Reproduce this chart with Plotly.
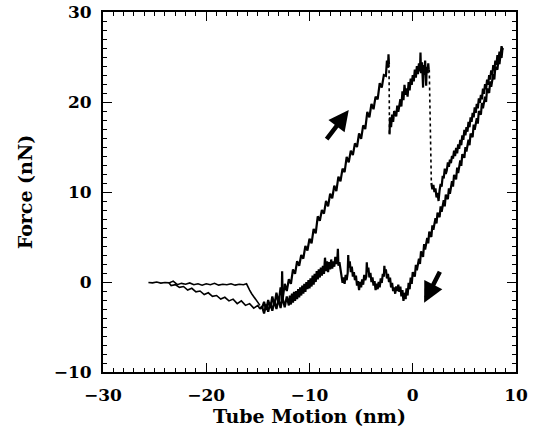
import plotly.graph_objects as go

# ---- data (Tube Motion nm, Force nN) ----
flat_x = [-25.6, -25.2, -24.8, -24.4, -24.0, -23.6, -23.2, -22.8, -22.4, -22.0, -21.6, -21.2, -20.8,
          -20.4, -20.0, -19.6, -19.2, -18.8, -18.4, -18.0, -17.6, -17.2, -16.8, -16.4, -16.1,
          -16.0, -15.8, -15.6, -15.4, -15.2, -15.0, -14.8]
flat_y = [-0.05, -0.1, 0.0, -0.12, -0.05, -0.1, 0.1, -0.3, -0.15, -0.25, -0.1, -0.3, -0.2,
          -0.35, -0.2, -0.3, -0.15, -0.35, -0.25, -0.3, -0.2, -0.35, -0.25, -0.3, -0.2,
          -0.5, -0.9, -1.3, -1.6, -2.0, -2.3, -2.6]

rise_x = [-14.6, -14.4, -14.2, -14.0, -13.8, -13.6, -13.4, -13.2, -13.0, -12.8, -12.6, -12.4, -12.2,
          -12.0, -11.8, -11.6, -11.4, -11.2, -11.0, -10.8, -10.6, -10.4, -10.2, -10.0, -9.8, -9.6,
          -9.4, -9.2, -9.0, -8.8, -8.6, -8.4, -8.2, -8.0, -7.8, -7.6, -7.4, -7.2, -7.0, -6.8, -6.6,
          -6.4, -6.2, -6.0, -5.8, -5.6, -5.4, -5.2, -5.0, -4.8, -4.6, -4.4, -4.2, -4.0, -3.8, -3.6,
          -3.4, -3.2, -3.0, -2.8, -2.6, -2.5, -2.4, -2.35, -2.3]
rise_y = [-2.9, -2.2, -3.1, -2.0, -2.9, -1.6, -2.6, -1.2, -2.4, -0.6, -1.9, -0.2, -1.0,
          0.3, -0.2, 1.4, 0.9, 2.3, 1.8, 3.0, 2.6, 4.0, 3.5, 4.8, 4.3, 5.9,
          5.4, 7.3, 6.8, 8.0, 7.6, 9.0, 8.4, 9.8, 9.3, 10.7, 10.1, 11.7, 11.2, 12.6, 12.2,
          13.9, 13.3, 14.6, 14.1, 15.4, 15.0, 16.5, 15.9, 17.4, 17.0, 18.9, 18.3, 19.8, 19.2, 20.6,
          20.3, 22.1, 21.6, 23.0, 22.9, 24.6, 23.8, 25.3, 24.2]

drop1_x = [-2.3, -2.25]
drop1_y = [24.2, 16.4]

climb_x = [-2.25, -2.2, -2.1, -2.0, -1.9, -1.8, -1.6, -1.5, -1.4, -1.2, -1.1, -1.0, -0.9, -0.8,
           -0.7, -0.6, -0.5, -0.4, -0.3, -0.2, -0.1, 0.0, 0.1, 0.2, 0.3, 0.4, 0.5, 0.6, 0.7,
           0.75, 0.8, 0.9, 1.0, 1.05, 1.15, 1.2, 1.3, 1.35, 1.45, 1.5, 1.55]
climb_y = [16.4, 18.3, 17.2, 18.6, 17.8, 19.0, 18.4, 19.6, 18.9, 20.3, 19.5, 21.2, 20.2, 21.9,
           20.8, 21.5, 20.6, 22.2, 21.3, 22.6, 21.9, 23.0, 22.3, 23.6, 22.7, 24.0, 23.1, 24.3, 23.4,
           25.5, 23.2, 24.4, 21.6, 24.1, 23.0, 24.6, 21.8, 23.9, 23.2, 24.3, 23.6]

drop2_x = [1.6, 1.8]
drop2_y = [23.6, 11.0]

push_x = [1.8, 1.9, 2.0, 2.1, 2.2, 2.3, 2.4, 2.5, 2.6, 2.7, 2.8, 2.9, 3.0, 3.1, 3.2, 3.3, 3.4,
          3.5, 3.6, 3.7, 3.8, 3.9, 4.0, 4.1, 4.2, 4.3, 4.4, 4.5, 4.6, 4.7, 4.8, 4.9, 5.0, 5.1,
          5.2, 5.3, 5.4, 5.5, 5.6, 5.7, 5.8, 5.9, 6.0, 6.1, 6.2, 6.3, 6.4, 6.5, 6.6, 6.7, 6.8,
          6.9, 7.0, 7.1, 7.2, 7.3, 7.4, 7.5, 7.6, 7.7, 7.8, 7.9, 8.0, 8.1, 8.2, 8.3, 8.4, 8.5,
          8.6, 8.7]
push_y = [11.0, 10.3, 10.8, 10.0, 10.4, 9.4, 9.9, 9.0, 10.2, 10.9, 10.6, 11.8, 11.5, 12.6, 12.0, 12.4, 13.3,
          12.8, 13.6, 13.2, 14.0, 13.7, 14.6, 14.0, 14.9, 14.3, 15.3, 14.8, 15.8, 15.2, 16.3, 15.8, 16.9, 16.3,
          17.2, 16.7, 17.8, 17.2, 18.3, 17.8, 18.8, 18.3, 19.4, 18.8, 19.8, 19.3, 20.4, 19.9, 20.8, 20.3, 21.5,
          20.9, 22.0, 21.4, 22.5, 21.9, 23.0, 22.5, 23.5, 23.0, 24.1, 23.5, 24.6, 24.1, 25.2, 24.6, 25.6, 25.1,
          26.2, 25.8]

back_x = [8.7, 8.6, 8.5, 8.4, 8.3, 8.2, 8.0, 7.9, 7.8, 7.6, 7.5, 7.4, 7.2, 7.1, 7.0, 6.8, 6.7, 6.6,
          6.4, 6.3, 6.2, 6.0, 5.9, 5.8, 5.6, 5.5, 5.4, 5.2, 5.1, 5.0, 4.8, 4.7, 4.6, 4.4, 4.3, 4.2,
          4.0, 3.9, 3.8, 3.6, 3.5, 3.4, 3.2, 3.1, 3.0, 2.8, 2.7, 2.6, 2.4, 2.3, 2.2, 2.0, 1.9, 1.8,
          1.6, 1.5, 1.4, 1.2, 1.1, 1.0, 0.8, 0.7, 0.6, 0.4, 0.3, 0.2, 0.0, -0.1, -0.2, -0.3, -0.4,
          -0.5, -0.6, -0.7]
back_y = [26.0, 24.9, 25.3, 24.2, 24.7, 23.6, 23.9, 22.5, 23.1, 21.7, 22.3, 21.0, 21.5, 20.0, 20.6, 19.3, 19.9, 18.6,
          19.0, 17.6, 18.2, 16.9, 17.5, 16.1, 16.5, 15.2, 15.8, 14.5, 15.0, 13.8, 14.2, 12.9, 13.5, 12.1, 12.7, 11.4,
          11.9, 10.6, 11.2, 9.8, 10.4, 9.2, 9.7, 8.4, 9.1, 7.8, 8.4, 7.2, 7.7, 6.5, 7.1, 5.8, 6.3, 5.0,
          5.6, 4.3, 4.9, 3.6, 4.2, 2.8, 3.4, 2.0, 2.6, 1.3, 1.9, 0.6, 1.1, -0.2, 0.5, -0.8, -0.1,
          -1.5, -0.7, -1.9]

wavy_x = [-0.7, -0.8, -0.9, -1.0, -1.1, -1.2, -1.3, -1.4, -1.5, -1.6, -1.7, -1.8, -1.9, -2.0, -2.1,
          -2.2, -2.3, -2.4, -2.5, -2.6, -2.7, -2.75, -2.8, -2.9, -3.0, -3.1, -3.2, -3.3, -3.4, -3.5,
          -3.6, -3.7, -3.8, -3.9, -4.0, -4.1, -4.2, -4.3, -4.4, -4.45, -4.5, -4.6, -4.7, -4.8, -4.9,
          -5.0, -5.1, -5.2, -5.3, -5.4, -5.5, -5.6, -5.7, -5.8, -5.9, -6.0, -6.1, -6.2, -6.25, -6.3,
          -6.4, -6.5, -6.6, -6.7, -6.8, -6.9, -7.0, -7.1, -7.2, -7.25, -7.3, -7.4, -7.5, -7.6, -7.7,
          -7.8, -7.9, -8.0, -8.1, -8.2, -8.3, -8.4, -8.5, -8.6, -8.7, -8.8, -8.9, -9.0, -9.1, -9.2,
          -9.3, -9.4, -9.5, -9.6, -9.7, -9.8, -9.9, -10.0, -10.1, -10.2, -10.3, -10.4, -10.5, -10.6,
          -10.7, -10.8, -10.9, -11.0, -11.1, -11.2, -11.3, -11.4, -11.5, -11.6, -11.7, -11.8, -11.9,
          -12.0, -12.2, -12.4, -12.6, -12.65, -12.7, -12.8, -13.0, -13.2, -13.4, -13.6, -13.8, -14.0,
          -14.2, -14.4, -14.6, -14.8]
wavy_y = [-1.9, -1.2, -2.1, -0.9, -1.6, -0.5, -1.1, -0.3, -1.0, -0.5, -1.3, -0.6, -1.0, -0.1, -0.6,
          0.5, 0.0, 0.9, 0.4, 1.4, 1.1, 1.8, 0.6, 0.9, -0.1, 0.4, -0.6, 0.0, -0.8, -0.2,
          -0.9, 0.1, -0.4, 0.5, 0.0, 1.0, 0.5, 1.6, 1.1, 2.2, 0.6, 0.2, 0.8, -0.3, 0.3,
          -0.6, 0.0, -0.9, 0.1, -0.4, 0.7, 0.2, 1.1, 0.6, 1.7, 1.1, 2.3, 1.6, 3.0, 1.0,
          0.2, 0.8, -0.2, 0.5, -0.1, 0.9, 1.5, 2.2, 1.8, 3.7, 2.6, 2.0, 2.8, 1.7, 2.3,
          1.5, 2.5, 1.4, 2.2, 1.1, 2.3, 1.2, 2.7, 0.9, 1.8, 0.7, 1.6, 0.5, 1.4, 0.3,
          1.2, 0.0, 0.9, -0.3, 0.7, -0.5, 0.4, -0.7, 0.2, -0.8, 0.0, -1.1, -0.2, -1.3,
          -0.4, -1.5, -0.6, -1.7, -0.8, -1.9, -1.0, -2.1, -1.1, -2.3, -1.3, -2.5, -1.5,
          -2.6, -1.6, -2.8, -1.8, 1.2, -2.2, -2.9, -1.9, -3.0, -2.1, -3.2, -2.3, -3.3,
          -2.5, -3.5, -2.7, -3.0]

slope_x = [-14.8, -15.0, -15.4, -15.8, -16.2, -16.6, -17.0, -17.4, -17.8, -18.2, -18.6, -19.0,
           -19.4, -19.8, -20.2, -20.6, -21.0, -21.4, -21.8, -22.2, -22.6, -23.0, -23.4, -23.6]
slope_y = [-3.0, -2.6, -2.9, -2.4, -2.6, -2.1, -2.4, -1.9, -2.1, -1.7, -1.9, -1.5,
           -1.6, -1.2, -1.4, -1.0, -1.1, -0.7, -0.9, -0.5, -0.6, -0.3, -0.4, -0.1]

x_ticks = [-30, -20, -10, 0, 10]
y_ticks = [-10, 0, 10, 20, 30]

FONT = "DejaVu Serif"
line = dict(color="black", width=2.2)
thin = dict(color="black", width=1.6)
dot = dict(color="black", width=1.6, dash="dot")

fig = go.Figure()
for xs, ys, st in [(flat_x, flat_y, thin), (rise_x, rise_y, line), (drop1_x, drop1_y, dot),
                   (climb_x, climb_y, line), (drop2_x, drop2_y, dot), (push_x, push_y, line),
                   (back_x, back_y, line), (wavy_x, wavy_y, line), (slope_x, slope_y, thin)]:
    fig.add_trace(go.Scatter(x=xs, y=ys, mode="lines", line=st, showlegend=False, hoverinfo="skip"))

arrow = dict(showarrow=True, text="", axref="x", ayref="y", xref="x", yref="y",
             arrowhead=2, arrowsize=0.9, arrowwidth=4.5, arrowcolor="black")
fig.add_annotation(x=-6.2, y=19.1, ax=-8.45, ay=15.7, **arrow)
fig.add_annotation(x=1.1, y=-2.3, ax=2.7, ay=1.3, **arrow)

axis_common = dict(showline=True, linecolor="black", linewidth=1.8, mirror="allticks",
                   ticks="inside", ticklen=9, tickwidth=1.3, tickcolor="black",
                   showgrid=False, zeroline=False, automargin=False,
                   tickfont=dict(family=FONT, size=17, color="black", weight="bold"),
                   minor=dict(ticks="inside", ticklen=4, tickwidth=1, tickcolor="black", dtick=1))

fig.update_xaxes(range=[-30, 10], tickvals=x_ticks, ticktext=[f"{v:g}".replace("-", "\u2212") for v in x_ticks],
                 title=dict(text="Tube Motion (nm)", font=dict(family=FONT, size=19, color="black", weight="bold"),
                            standoff=2),
                 ticklabelstandoff=7, **axis_common)
fig.update_yaxes(range=[-10, 30], tickvals=y_ticks, ticktext=[f"{v:g}".replace("-", "\u2212") for v in y_ticks],
                 title=dict(text="Force (nN)", font=dict(family=FONT, size=19, color="black", weight="bold"),
                            standoff=16),
                 ticklabelstandoff=6, **axis_common)

fig.update_layout(width=536, height=432, margin=dict(l=103, r=20, t=12, b=60),
                  plot_bgcolor="white", paper_bgcolor="white")

fig.write_html("out.html")
